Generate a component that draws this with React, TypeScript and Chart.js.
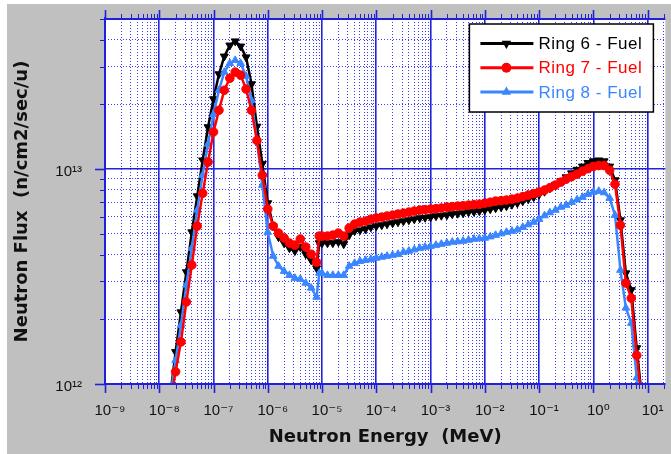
import React, { useEffect, useRef } from 'react';
import { Chart, registerables } from 'chart.js';

Chart.register(...registerables);

// Neutron energy group points (MeV)
const ENERGY = [
  1.26e-8, 1.58e-8, 2.0e-8, 2.51e-8, 3.16e-8, 3.98e-8, 5.01e-8, 6.31e-8, 7.94e-8,
  1.0e-7, 1.26e-7, 1.58e-7, 2.0e-7, 2.51e-7, 3.16e-7, 3.98e-7, 5.01e-7, 6.31e-7, 7.94e-7,
  1.0e-6, 1.26e-6, 1.58e-6, 2.0e-6, 2.51e-6, 3.16e-6, 3.98e-6, 5.01e-6, 6.31e-6, 7.94e-6, 8.9e-6,
  1.0e-5, 1.26e-5, 1.58e-5, 2.0e-5, 2.51e-5, 3.16e-5, 3.98e-5, 5.01e-5, 6.31e-5, 7.94e-5,
  1.0e-4, 1.26e-4, 1.58e-4, 2.0e-4, 2.51e-4, 3.16e-4, 3.98e-4, 5.01e-4, 6.31e-4, 7.94e-4,
  1.0e-3, 1.26e-3, 1.58e-3, 2.0e-3, 2.51e-3, 3.16e-3, 3.98e-3, 5.01e-3, 6.31e-3, 7.94e-3,
  1.0e-2, 1.26e-2, 1.58e-2, 2.0e-2, 2.51e-2, 3.16e-2, 3.98e-2, 5.01e-2, 6.31e-2, 7.94e-2,
  0.1, 0.126, 0.158, 0.2, 0.251, 0.316, 0.398, 0.501, 0.631, 0.794,
  1.0, 1.26, 1.58, 2.0, 2.51, 3.16, 3.98, 5.01, 6.31, 7.94,
];

const RING6 = [
  5.5e11, 8.7e11, 1.41e12, 2.16e12, 3.32e12, 5.09e12, 7.49e12, 1.1e13, 1.57e13,
  2.12e13, 2.77e13, 3.35e13, 3.77e13, 3.94e13, 3.73e13, 3.32e13, 2.49e13, 1.58e13, 1.06e13,
  6.95e12, 5.43e12, 4.83e12, 4.53e12, 4.29e12, 4.16e12, 4.34e12, 4.02e12, 3.77e12, 3.46e12, 4.53e12,
  4.53e12, 4.53e12, 4.53e12, 4.58e12, 4.48e12, 4.93e12, 5.15e12, 5.2e12, 5.26e12, 5.37e12,
  5.43e12, 5.49e12, 5.55e12, 5.61e12, 5.67e12, 5.73e12, 5.79e12, 5.85e12, 5.92e12, 5.95e12,
  5.98e12, 6.05e12, 6.08e12, 6.11e12, 6.18e12, 6.21e12, 6.24e12, 6.31e12, 6.34e12, 6.38e12,
  6.45e12, 6.52e12, 6.59e12, 6.66e12, 6.73e12, 6.84e12, 6.95e12, 7.1e12, 7.25e12, 7.41e12,
  7.61e12, 7.86e12, 8.16e12, 8.47e12, 8.8e12, 9.18e12, 9.58e12, 9.95e12, 1.03e13, 1.07e13,
  1.09e13, 1.1e13, 1.09e13, 1.03e13, 8.89e12, 5.79e12, 3.28e12, 2.74e12, 1.47e12, 8.4e11,
];

const RING7 = [
  4.4e11, 8.0e11, 1.14e12, 1.57e12, 2.41e12, 3.58e12, 5.43e12, 7.73e12, 1.08e13,
  1.49e13, 1.88e13, 2.33e13, 2.65e13, 2.83e13, 2.74e13, 2.36e13, 1.88e13, 1.36e13, 9.38e12,
  6.52e12, 5.43e12, 5.04e12, 4.78e12, 4.53e12, 4.43e12, 4.73e12, 4.34e12, 4.02e12, 3.69e12, 4.88e12,
  4.88e12, 4.88e12, 4.93e12, 5.04e12, 4.88e12, 5.32e12, 5.55e12, 5.67e12, 5.73e12, 5.85e12,
  5.92e12, 5.98e12, 6.05e12, 6.11e12, 6.18e12, 6.24e12, 6.31e12, 6.38e12, 6.45e12, 6.48e12,
  6.52e12, 6.55e12, 6.59e12, 6.66e12, 6.69e12, 6.73e12, 6.76e12, 6.8e12, 6.84e12, 6.87e12,
  6.95e12, 7.02e12, 7.1e12, 7.14e12, 7.18e12, 7.25e12, 7.33e12, 7.45e12, 7.57e12, 7.69e12,
  7.82e12, 7.99e12, 8.2e12, 8.43e12, 8.7e12, 8.98e12, 9.23e12, 9.48e12, 9.79e12, 1.005e13,
  1.03e13, 1.04e13, 1.04e13, 9.89e12, 8.51e12, 5.49e12, 2.95e12, 2.51e12, 1.36e12, 8.0e11,
];

const RING8 = [
  4.9e11, 8.6e11, 1.29e12, 1.88e12, 2.89e12, 4.29e12, 6.45e12, 9.38e12, 1.31e13,
  1.8e13, 2.33e13, 2.83e13, 3.11e13, 3.21e13, 3.11e13, 2.71e13, 2.09e13, 1.36e13, 8.43e12,
  5.09e12, 3.94e12, 3.54e12, 3.35e12, 3.21e12, 3.11e12, 3.08e12, 2.95e12, 2.8e12, 2.54e12, 3.28e12,
  3.28e12, 3.21e12, 3.21e12, 3.21e12, 3.21e12, 3.54e12, 3.65e12, 3.73e12, 3.77e12, 3.81e12,
  3.86e12, 3.9e12, 3.94e12, 3.98e12, 4.02e12, 4.11e12, 4.16e12, 4.22e12, 4.29e12, 4.34e12,
  4.38e12, 4.43e12, 4.48e12, 4.53e12, 4.58e12, 4.6e12, 4.63e12, 4.68e12, 4.73e12, 4.75e12,
  4.78e12, 4.85e12, 4.93e12, 5.01e12, 5.09e12, 5.15e12, 5.23e12, 5.37e12, 5.52e12, 5.67e12,
  5.85e12, 6.08e12, 6.28e12, 6.45e12, 6.66e12, 6.8e12, 7.02e12, 7.21e12, 7.41e12, 7.65e12,
  7.82e12, 7.9e12, 7.78e12, 7.33e12, 6.11e12, 3.39e12, 2.26e12, 1.92e12, 1.07e12, 6.1e11,
];

const SERIES_LABELS = ['Ring 6 - Fuel', 'Ring 7 - Fuel', 'Ring 8 - Fuel'];

const X_MAJOR = [1e-9, 1e-8, 1e-7, 1e-6, 1e-5, 1e-4, 1e-3, 1e-2, 1e-1, 1e0, 1e1];
const X_LABELS = ['10⁻⁹', '10⁻⁸', '10⁻⁷', '10⁻⁶', '10⁻⁵', '10⁻⁴', '10⁻³', '10⁻²', '10⁻¹', '10⁰', '10¹'];
const Y_MAJOR = [1e12, 1e13];
const Y_LABELS = ['10¹²', '10¹³'];

const X_MIN = 1e-9;
const X_MAX = 21.3;
const Y_MIN = 1e12;
const Y_MAX = 5e13;

const X_TITLE = 'Neutron Energy  (MeV)';
const Y_TITLE = 'Neutron Flux  (n/cm2/sec/u)';

const BLACK = '#000000';
const RED = '#ff0000';
const BLUE = '#3a86ff';
const AXIS_BLUE = '#2020dc';
const GRID_MAJOR = '#2323dd';
const GRID_MINOR = '#3a3aff';
const BG_GRAY = '#c0c0c0';

function buildLogTicks(min: number, max: number) {
  const ticks: { value: number; major: boolean }[] = [];
  const e0 = Math.floor(Math.log10(min));
  const e1 = Math.ceil(Math.log10(max));
  for (let e = e0; e <= e1; e++) {
    for (let m = 1; m <= 9; m++) {
      const v = parseFloat(`${m}e${e}`);
      if (v >= min * (1 - 1e-9) && v <= max * (1 + 1e-9)) ticks.push({ value: v, major: m === 1 });
    }
  }
  return ticks;
}

function labelFor(value: number, majors: number[], labels: string[]) {
  const k = majors.findIndex((v) => Math.abs(Math.log10(v) - Math.log10(value)) < 1e-6);
  return k >= 0 ? labels[k] : '';
}

const TICK_FONT = { family: "'Liberation Sans', Arial, 'DejaVu Sans', sans-serif", size: 15 };
const TITLE_FONT = { family: "'DejaVu Sans', sans-serif", size: 18, weight: 'bold' as const };

const isMajor = (c: any) => !!(c && c.tick && c.tick.major);

const zeroPadding = (s: any) => {
  s.paddingTop = 0;
  s.paddingBottom = 0;
  s.paddingLeft = 0;
  s.paddingRight = 0;
};

const backgroundPlugin = {
  id: 'bgPlugin',
  beforeDraw(chart: any) {
    const { ctx, width, height, chartArea: ca } = chart;
    ctx.save();
    ctx.fillStyle = '#ffffff';
    ctx.fillRect(0, 0, width, height);
    ctx.fillStyle = BG_GRAY;
    ctx.fillRect(7, 4, width - 7, height - 4);
    ctx.fillStyle = '#ffffff';
    ctx.fillRect(ca.left, ca.top, ca.right - ca.left, ca.bottom - ca.top);
    ctx.restore();
  },
};

const framePlugin = {
  id: 'framePlugin',
  afterDatasetsDraw(chart: any) {
    const { ctx, chartArea: ca, scales } = chart;
    const line = (x1: number, y1: number, x2: number, y2: number) => {
      ctx.beginPath();
      ctx.moveTo(x1, y1);
      ctx.lineTo(x2, y2);
      ctx.stroke();
    };
    ctx.save();
    ctx.strokeStyle = AXIS_BLUE;
    for (const t of scales.x.ticks) {
      const px = Math.round(scales.x.getPixelForValue(t.value)) + 0.5;
      const len = t.major ? 9 : 5;
      ctx.lineWidth = t.major ? 1.6 : 1;
      line(px, ca.bottom, px, ca.bottom + len);
      line(px, ca.top, px, ca.top - len);
    }
    for (const t of scales.y.ticks) {
      const py = Math.round(scales.y.getPixelForValue(t.value)) + 0.5;
      const len = t.major ? 10 : 5;
      ctx.lineWidth = t.major ? 1.6 : 1;
      line(ca.left - len, py, ca.left, py);
    }
    ctx.lineWidth = 2;
    line(ca.left, ca.top - 2, ca.left, ca.bottom + 1);
    line(ca.left - 1, ca.bottom, ca.right, ca.bottom);
    line(ca.left - 1, ca.top, ca.right, ca.top);
    ctx.restore();
  },
};

const legendPlugin = {
  id: 'insideLegend',
  afterDraw(chart: any) {
    const { ctx, chartArea: ca } = chart;
    const w = 184;
    const h = 88;
    const left = ca.right - 12 - w;
    const top = ca.top + 5;
    ctx.save();
    ctx.fillStyle = '#ffffff';
    ctx.fillRect(left, top, w, h);
    ctx.strokeStyle = '#000000';
    ctx.lineWidth = 1.5;
    ctx.strokeRect(left, top, w, h);
    chart.data.datasets.forEach((ds: any, i: number) => {
      const y = top + 19.5 + i * 24.3;
      const color = ds.borderColor;
      ctx.strokeStyle = color;
      ctx.fillStyle = color;
      ctx.lineWidth = 3;
      ctx.beginPath();
      ctx.moveTo(left + 11, y);
      ctx.lineTo(left + 64, y);
      ctx.stroke();
      const cx = left + 37;
      const r = 5.5;
      ctx.beginPath();
      if (ds.pointStyle === 'circle') {
        ctx.arc(cx, y, r * 0.9, 0, Math.PI * 2);
      } else if (ds.pointRotation === 180) {
        ctx.moveTo(cx, y + r);
        ctx.lineTo(cx - r * 0.866, y - r / 2);
        ctx.lineTo(cx + r * 0.866, y - r / 2);
        ctx.closePath();
      } else {
        ctx.moveTo(cx, y - r);
        ctx.lineTo(cx - r * 0.866, y + r / 2);
        ctx.lineTo(cx + r * 0.866, y + r / 2);
        ctx.closePath();
      }
      ctx.fill();
      ctx.font = "17px 'Liberation Sans', Arial, sans-serif";
      try {
        (ctx as any).letterSpacing = '0.5px';
      } catch (e) {}
      ctx.textAlign = 'left';
      ctx.textBaseline = 'middle';
      ctx.fillText(ds.label, left + 69, y + 1);
      try {
        (ctx as any).letterSpacing = '0px';
      } catch (e) {}
    });
    ctx.restore();
  },
};

export default function App() {
  const ref = useRef<HTMLCanvasElement>(null);

  useEffect(() => {
    document.body.style.margin = '0';
    const canvas = ref.current;
    if (!canvas) return;

    const mk = (vals: number[]) => ENERGY.map((x, i) => ({ x, y: vals[i] }));

    const chart = new Chart(canvas, {
      type: 'line',
      data: {
        datasets: [
          {
            label: SERIES_LABELS[0],
            data: mk(RING6),
            borderColor: BLACK,
            backgroundColor: BLACK,
            pointStyle: 'triangle',
            pointRotation: 180,
            pointRadius: 4.6,
            pointBorderWidth: 1,
            borderWidth: 2.5,
            tension: 0,
            order: 3,
          },
          {
            label: SERIES_LABELS[1],
            data: mk(RING7),
            borderColor: RED,
            backgroundColor: RED,
            pointStyle: 'circle',
            pointRadius: 4.3,
            pointBorderWidth: 1,
            borderWidth: 2.5,
            tension: 0,
            order: 1,
          },
          {
            label: SERIES_LABELS[2],
            data: mk(RING8),
            borderColor: BLUE,
            backgroundColor: BLUE,
            pointStyle: 'triangle',
            pointRotation: 0,
            pointRadius: 4.4,
            pointBorderWidth: 1,
            borderWidth: 2.5,
            tension: 0,
            order: 2,
          },
        ] as any,
      },
      options: {
        responsive: false,
        animation: false,
        devicePixelRatio: 1,
        layout: { padding: { left: 7, top: 19, right: 0, bottom: 0 } },
        plugins: {
          legend: { display: false },
          tooltip: { enabled: false },
        },
        scales: {
          x: {
            type: 'logarithmic',
            position: 'bottom',
            min: X_MIN,
            max: X_MAX,
            afterFit: (s: any) => {
              s.height = 70;
              zeroPadding(s);
            },
            afterBuildTicks: (s: any) => {
              s.ticks = buildLogTicks(s.min, s.max);
            },
            ticks: {
              autoSkip: false,
              maxRotation: 0,
              minRotation: 0,
              padding: 18,
              labelOffset: 5,
              color: '#111111',
              font: TICK_FONT,
              callback: (value: any) => labelFor(Number(value), X_MAJOR, X_LABELS),
            },
            grid: {
              drawTicks: false,
              color: (c: any) => (isMajor(c) ? GRID_MAJOR : GRID_MINOR),
              lineWidth: (c: any) => (isMajor(c) ? 1.6 : 1),
            },
            border: { display: false, dash: (c: any) => (isMajor(c) ? [] : [1, 2]) },
            title: {
              display: true,
              text: X_TITLE,
              color: '#111111',
              font: TITLE_FONT,
              padding: { top: 0, bottom: 6 },
            },
          },
          y: {
            type: 'logarithmic',
            position: 'left',
            min: Y_MIN,
            max: Y_MAX,
            afterFit: (s: any) => {
              s.width = 98;
              zeroPadding(s);
            },
            afterBuildTicks: (s: any) => {
              s.ticks = buildLogTicks(s.min, s.max);
            },
            ticks: {
              autoSkip: false,
              padding: 23,
              labelOffset: 3,
              color: '#111111',
              font: TICK_FONT,
              callback: (value: any) => labelFor(Number(value), Y_MAJOR, Y_LABELS),
            },
            grid: {
              drawTicks: false,
              color: (c: any) => (isMajor(c) ? GRID_MAJOR : GRID_MINOR),
              lineWidth: (c: any) => (isMajor(c) ? 1.6 : 1),
            },
            border: { display: false, dash: (c: any) => (isMajor(c) ? [] : [1, 2]) },
            title: {
              display: true,
              text: Y_TITLE,
              color: '#111111',
              font: TITLE_FONT,
              padding: { top: 4.5, bottom: 0 },
            },
          },
        },
      } as any,
      plugins: [backgroundPlugin, framePlugin, legendPlugin],
    });

    return () => chart.destroy();
  }, []);

  return (
    <div style={{ width: 671, height: 454 }}>
      <canvas ref={ref} width={671} height={454} style={{ display: 'block', width: 671, height: 454 }} />
    </div>
  );
}
